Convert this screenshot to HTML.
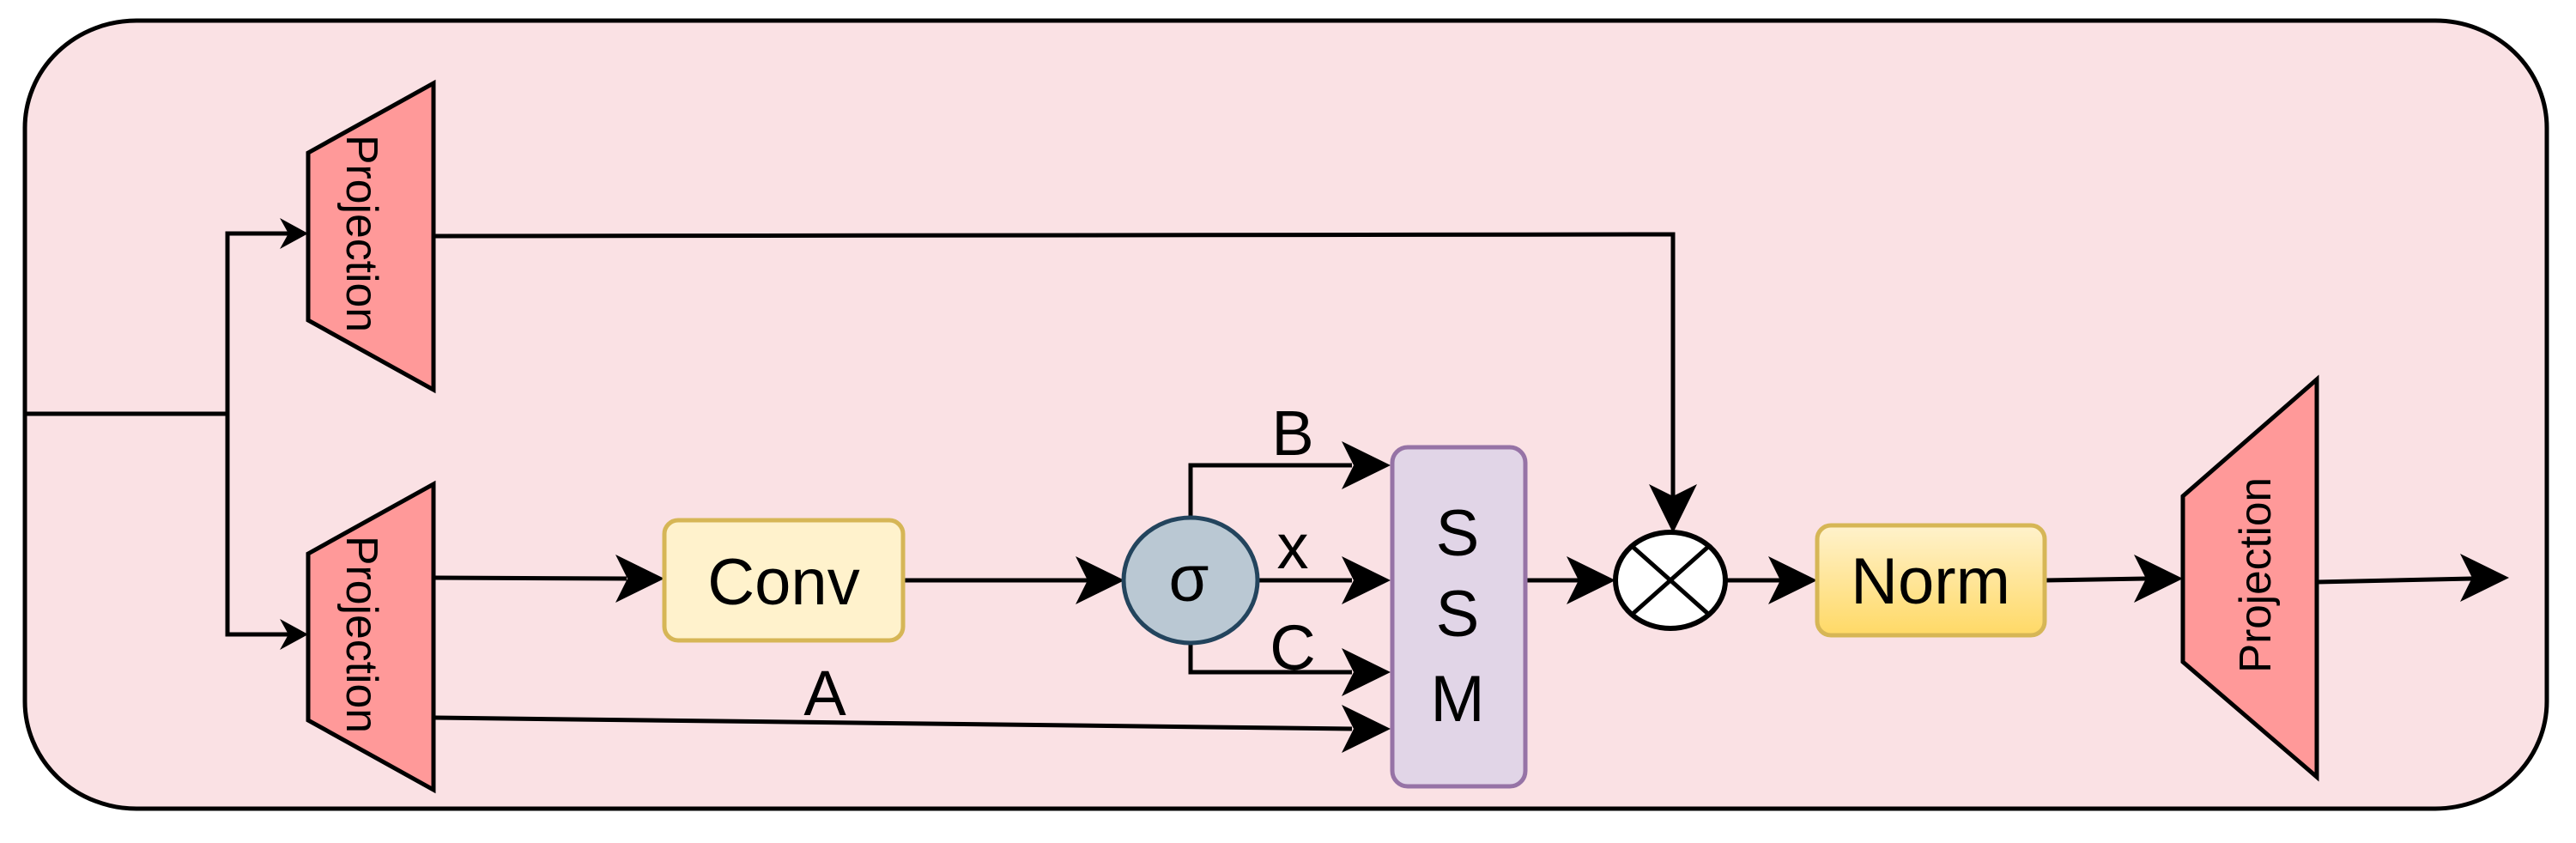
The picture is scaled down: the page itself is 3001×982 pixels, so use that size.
<!DOCTYPE html>
<html><head><meta charset="utf-8"><style>
html,body{margin:0;padding:0;background:#fff}
svg{display:block}
text{font-family:"Liberation Sans",Arial,sans-serif;fill:#000}
</style></head><body>
<svg width="3001" height="982" viewBox="0 0 3001 982" xmlns="http://www.w3.org/2000/svg">
<defs>
<linearGradient id="ng" x1="0" y1="0" x2="0" y2="1"><stop offset="0" stop-color="#fff2cc"/><stop offset="1" stop-color="#ffd966"/></linearGradient>
</defs>
<rect x="29" y="24" width="2938" height="918" rx="130" ry="125" fill="#fae1e4" stroke="#000" stroke-width="5"/>

<!-- projections -->
<polygon points="359,178 505,97 505,454 359,373" fill="#ff9999" stroke="#000" stroke-width="5"/>
<text transform="translate(404,272) rotate(90)" font-size="52" text-anchor="middle" textLength="230" lengthAdjust="spacingAndGlyphs">Projection</text>
<polygon points="359,645 505,564 505,920 359,839" fill="#ff9999" stroke="#000" stroke-width="5"/>
<text transform="translate(404,739) rotate(90)" font-size="52" text-anchor="middle" textLength="230" lengthAdjust="spacingAndGlyphs">Projection</text>
<polygon points="2543,578 2699,442 2699,905 2543,771" fill="#ff9999" stroke="#000" stroke-width="5"/>
<text transform="translate(2645,670) rotate(-90)" font-size="52" text-anchor="middle" textLength="228" lengthAdjust="spacingAndGlyphs">Projection</text>

<g stroke="#000" stroke-width="5" fill="none">
<polyline points="29,482 265,482"/>
<polyline points="340,272 265,272 265,739 340,739"/>
<polyline points="505,275 1949,273 1949,580"/>
<line x1="505" y1="673" x2="730" y2="674"/>
<line x1="505" y1="836" x2="1575" y2="849"/>
<line x1="1052" y1="676" x2="1270" y2="676"/>
<polyline points="1387,603 1387,542 1575,542"/>
<line x1="1465" y1="676" x2="1575" y2="676"/>
<polyline points="1387,749 1387,783 1575,783"/>
<line x1="1777" y1="676" x2="1840" y2="676"/>
<line x1="2010" y1="676" x2="2075" y2="676"/>
<line x1="2382" y1="676" x2="2500" y2="674"/>
<line x1="2699" y1="678" x2="2880" y2="674"/>
</g>

<!-- arrowheads -->
<g fill="#000">
<polygon points="359,272 326,254 336,272 326,290"/>
<polygon points="359,739 326,721 336,739 326,757"/>
<polygon points="774,674 717,646 731,674 717,702"/>
<polygon points="1310,676 1253,648 1267,676 1253,704"/>
<polygon points="1620,542 1563,514 1577,542 1563,570"/>
<polygon points="1620,676 1563,648 1577,676 1563,704"/>
<polygon points="1620,783 1563,755 1577,783 1563,811"/>
<polygon points="1620,849 1563,821 1577,849 1563,877"/>
<polygon points="1882,676 1825,648 1839,676 1825,704"/>
<polygon points="1949,621 1921,564 1949,578 1977,564"/>
<polygon points="2117,676 2060,648 2074,676 2060,704"/>
<polygon points="2543,674 2486,646 2500,674 2486,702"/>
<polygon points="2923,673 2866,645 2880,673 2866,701"/>
</g>

<!-- Conv -->
<rect x="774" y="606" width="278" height="140" rx="16" fill="#fff2cc" stroke="#d6b656" stroke-width="5"/>
<text x="913" y="704" font-size="76" text-anchor="middle">Conv</text>

<!-- sigma -->
<ellipse cx="1387" cy="676" rx="78" ry="73" fill="#bac8d3" stroke="#23445d" stroke-width="5"/>
<text x="1385" y="700" font-size="76" text-anchor="middle">σ</text>

<!-- labels -->
<text x="1506" y="530" font-size="74" text-anchor="middle">B</text>
<text x="1506" y="662" font-size="74" text-anchor="middle">x</text>
<text x="1506" y="780" font-size="74" text-anchor="middle">C</text>
<text x="961" y="833" font-size="74" text-anchor="middle">A</text>

<!-- SSM -->
<rect x="1622" y="521" width="155" height="395" rx="18" fill="#e1d5e7" stroke="#9673a6" stroke-width="5"/>
<text x="1698" y="647" font-size="76" text-anchor="middle">S</text>
<text x="1698" y="741" font-size="76" text-anchor="middle">S</text>
<text x="1698" y="840" font-size="76" text-anchor="middle">M</text>

<!-- multiply -->
<ellipse cx="1946" cy="676" rx="64" ry="56" fill="#fff" stroke="#000" stroke-width="6"/>
<line x1="1901" y1="636" x2="1991" y2="716" stroke="#000" stroke-width="5"/>
<line x1="1991" y1="636" x2="1901" y2="716" stroke="#000" stroke-width="5"/>

<!-- Norm -->
<rect x="2117" y="612" width="265" height="128" rx="16" fill="url(#ng)" stroke="#d6b656" stroke-width="5"/>
<text x="2249" y="703" font-size="76" text-anchor="middle">Norm</text>
</svg>
</body></html>
